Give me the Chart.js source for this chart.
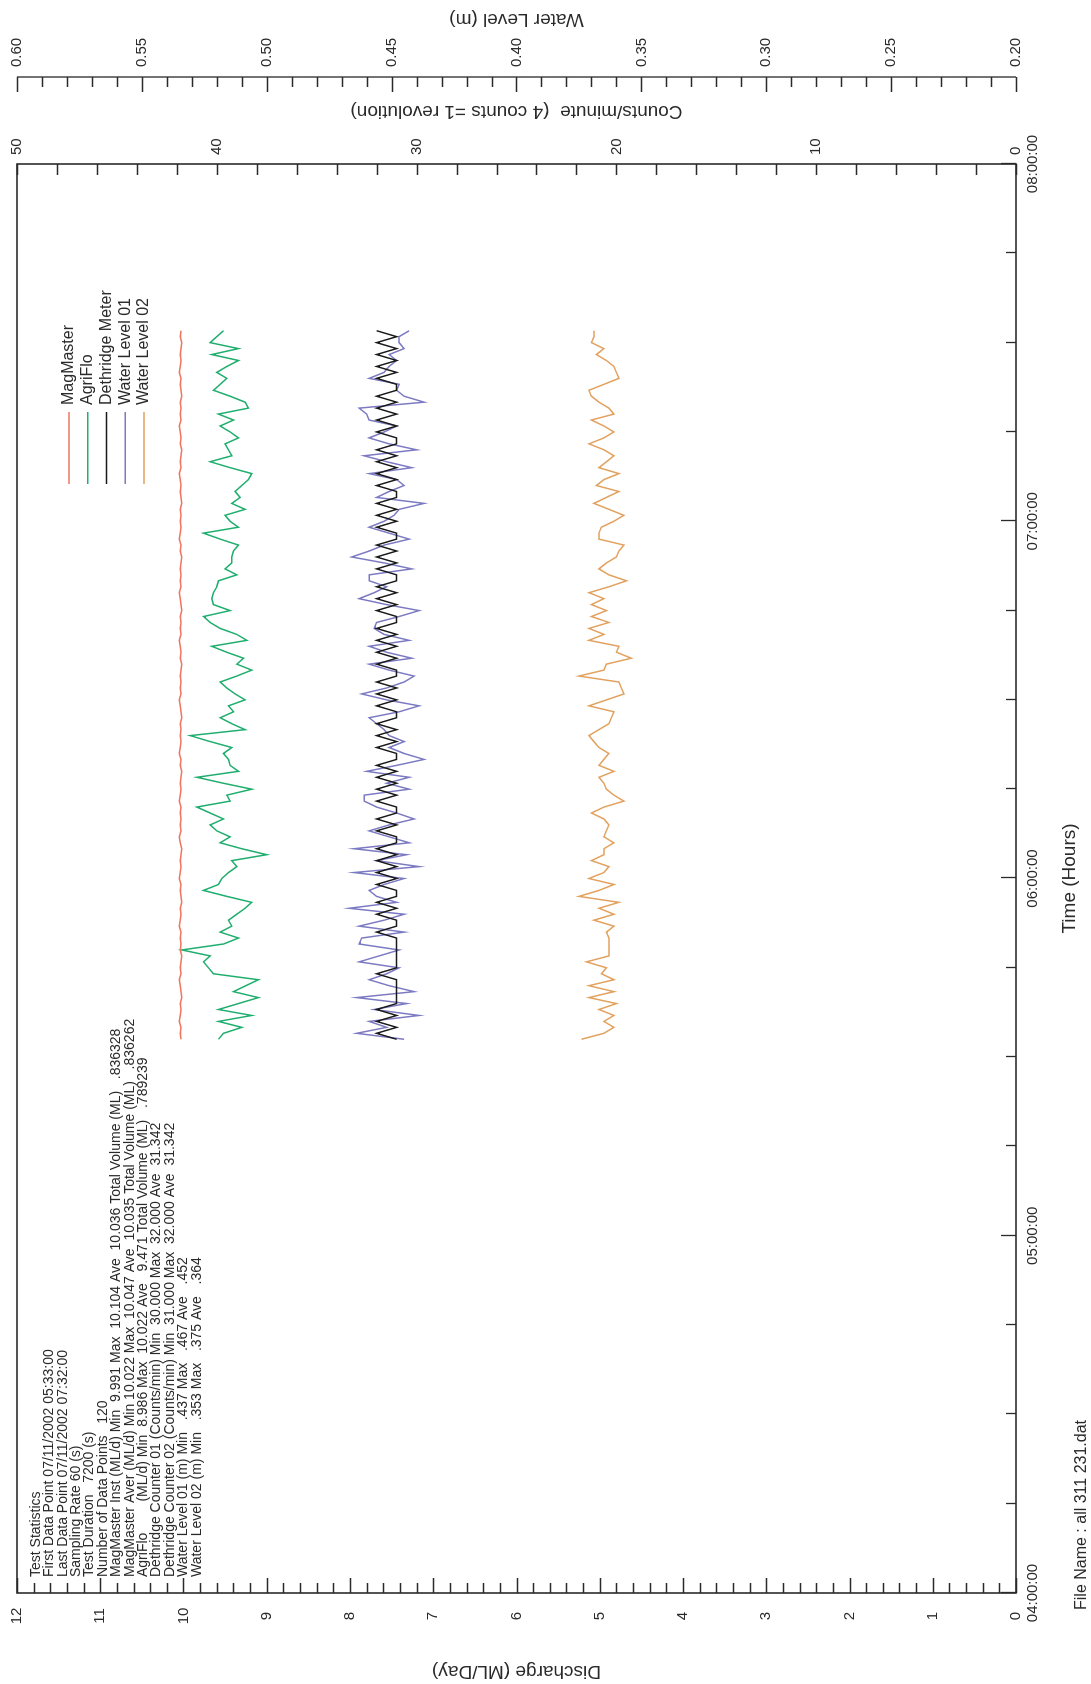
<!DOCTYPE html>
<html>
<head>
<meta charset="utf-8">
<script src="https://cdn.jsdelivr.net/npm/chart.js@4/dist/chart.umd.min.js"></script>
<style>
  html, body { margin: 0; padding: 0; background: #ffffff; overflow: hidden; }
  body { width: 1091px; height: 1684px; position: relative; }
  #wrap { position: absolute; left: 0; top: 0; width: 1684px; height: 1091px;
          transform-origin: 0 0; transform: translate(0px, 1684px) rotate(-90deg); }
  canvas { display: block; }
</style>
</head>
<body>
<div id="wrap"><canvas id="c" width="1684" height="1091"></canvas></div>
<script>
// ---------------- data ----------------
const seriesNames = ['MagMaster', 'AgriFlo', 'Dethridge Meter', 'Water Level 01', 'Water Level 02'];
const firstSampleMinute = 333;   // 05:33:00
const sampleCount = 120;         // one sample per minute (60 s)

const magMaster = [
  10.03,10.04,10.03,10.05,10.04,10.03,10.04,10.02,10.03,10.04,10.05,10.03,10.04,10.03,10.02,10.04,10.03,
  10.04,10.03,10.05,10.04,10.03,10.04,10.02,10.03,10.04,10.03,10.05,10.04,10.03,10.04,10.03,10.02,10.04,10.05,10.03,10.04,10.03,10.04,10.03,10.05,10.04,10.03,
  10.04,10.03,10.02,10.04,10.03,10.05,10.04,10.03,10.04,10.03,10.04,10.02,10.03,10.04,10.05,10.03,10.04,10.03,10.04,10.03,10.02,10.04,10.03,10.04,10.05,10.03,
  10.04,10.03,10.04,10.02,10.03,10.04,10.05,10.03,10.04,10.03,10.04,10.03,10.02,10.04,10.03,10.05,10.04,10.03,10.04,10.03,10.04,10.02,10.03,10.04,10.03,
  10.04,10.05,10.03,10.04,10.03,10.02,10.04,10.03,10.04,10.05,10.03,10.04,10.03,10.04,10.02,10.03,10.04,10.03,10.05,10.04,10.03,10.04,10.03,10.02,10.04,10.03
];
const agriFlo = [
  9.58,9.52,9.30,9.58,9.18,9.58,9.34,9.10,9.40,9.25,9.10,9.64,9.70,9.76,9.68,10.02,9.52,
  9.34,9.56,9.42,9.46,9.36,9.26,9.18,9.48,9.76,9.58,9.54,9.46,9.36,9.42,9.00,9.30,9.56,9.44,9.60,9.68,9.52,9.68,9.84,9.44,9.48,9.18,
  9.52,9.84,9.34,9.44,9.46,9.52,9.42,9.68,9.92,9.26,9.42,9.56,9.40,9.46,9.26,9.38,9.48,9.56,9.36,9.18,9.36,9.28,9.48,9.66,9.24,9.36,
  9.56,9.68,9.76,9.44,9.64,9.66,9.64,9.60,9.58,9.36,9.50,9.42,9.42,9.40,9.34,9.56,9.76,9.34,9.44,9.50,9.26,9.42,9.32,9.38,9.30,
  9.22,9.18,9.44,9.68,9.42,9.46,9.50,9.34,9.44,9.56,9.40,9.58,9.22,9.26,9.44,9.64,9.56,9.48,9.60,9.48,9.34,9.66,9.34,9.68,9.60,9.52
];
const dethridge = [
  31,32,31,32,31,32,31,31,31,31,31,32,31,31,31,31,31,
  31,32,31,31,32,31,32,31,31,32,31,32,31,32,31,32,31,31,32,31,32,31,31,32,31,32,
  31,32,31,32,31,31,32,31,32,31,32,31,31,32,31,32,31,32,31,31,32,31,32,31,32,31,
  32,31,31,32,31,32,31,32,31,31,32,31,32,31,32,31,31,32,31,32,31,32,31,31,32,
  31,32,31,32,31,32,31,31,32,31,32,31,32,31,32,31,31,32,31,32,31,32,31,32,31,32
];
const waterLevel01 = [
  .445,.464,.452,.459,.439,.457,.444,.464,.441,.451,.459,.452,.447,.463,.455,.447,.463,
  .462,.445,.463,.453,.445,.467,.448,.456,.459,.453,.445,.465,.439,.456,.444,.465,.443,.451,.459,.451,.441,.448,.456,.461,.461,.443,
  .452,.443,.460,.448,.437,.445,.451,.445,.451,.453,.456,.459,.447,.439,.452,.462,.452,.445,.441,.451,.459,.442,.452,.459,.443,.453,
  .457,.456,.447,.439,.452,.463,.457,.452,.459,.459,.442,.453,.466,.459,.453,.443,.451,.459,.453,.449,.447,.437,.456,.451,.445,
  .448,.459,.442,.452,.461,.440,.451,.459,.453,.448,.459,.460,.463,.437,.445,.448,.447,.459,.453,.451,.448,.451,.445,.447,.447,.443
];
const waterLevel02 = [
  .374,.365,.361,.365,.361,.367,.360,.371,.361,.371,.361,.366,.364,.372,.363,.363,.363,
  .363,.364,.361,.369,.361,.367,.359,.375,.367,.361,.371,.365,.363,.370,.365,.365,.361,.365,.364,.363,.365,.370,.365,.357,.361,.364,
  .365,.367,.361,.367,.365,.363,.367,.369,.371,.367,.363,.362,.361,.371,.364,.357,.358,.359,.375,.365,.364,.354,.360,.359,.371,.365,
  .371,.363,.370,.364,.370,.365,.371,.363,.356,.363,.367,.364,.360,.359,.357,.367,.367,.366,.361,.357,.363,.369,.364,.359,.368,
  .365,.359,.367,.364,.361,.365,.371,.365,.361,.365,.370,.361,.363,.367,.370,.371,.365,.359,.360,.361,.364,.368,.365,.370,.369,.369
];

const timeLabelMinutes = [240, 300, 360, 420, 480];
const timeLabels = ['04:00:00', '05:00:00', '06:00:00', '07:00:00', '08:00:00'];
const dischargeLabels = ['0','1','2','3','4','5','6','7','8','9','10','11','12'];
const countsLabels = ['0','10','20','30','40','50'];
const levelLabels = ['0.20','0.25','0.30','0.35','0.40','0.45','0.50','0.55','0.60'];

const statsLines = [
  'Test Statistics',
  'First Data Point 07/11/2002 05:33:00',
  'Last Data Point 07/11/2002 07:32:00',
  'Sampling Rate 60 (s)',
  'Test Duration   7200 (s)',
  'Number of Data Points   120',
  'MagMaster Inst (ML/d) Min  9.991 Max  10.104 Ave  10.036 Total Volume (ML)   .836328',
  'MagMaster Aver (ML/d) Min 10.022 Max  10.047 Ave  10.035 Total Volume (ML)   .836262',
  'AgriFlo        (ML/d) Min  8.986 Max  10.022 Ave   9.471 Total Volume (ML)   .789239',
  'Dethridge Counter 01 (Counts/min) Min  30.000 Max  32.000 Ave  31.342',
  'Dethridge Counter 02 (Counts/min) Min  31.000 Max  32.000 Ave  31.342',
  'Water Level 01 (m) Min   .437 Max   .467 Ave   .452',
  'Water Level 02 (m) Min   .353 Max   .375 Ave   .364'
];
const fileNameText = 'File Name : all 311 231.dat';

// --------------- build -----------------
const FONT = '"Liberation Sans", Arial, Helvetica, sans-serif';
const INK = '#2a2a2a';
function pts(arr) { return arr.map((v, i) => ({ x: firstSampleMinute + i, y: v })); }

const axesPlugin = {
  id: 'axesPlugin',
  afterDatasetsDraw(chart) {
    const ctx = chart.ctx, a = chart.chartArea;
    const xs = chart.scales.x, yd = chart.scales.yD, yc = chart.scales.yC, yw = chart.scales.yW;
    ctx.save();
    ctx.strokeStyle = INK; ctx.fillStyle = INK; ctx.lineWidth = 1.6;
    ctx.strokeRect(a.left, a.top, a.right - a.left, a.bottom - a.top);
    ctx.lineWidth = 1.3;
    ctx.beginPath();
    // time ticks (every 15 min), inward
    for (let m = xs.min; m <= xs.max + 0.01; m += 15) {
      const px = Math.round(xs.getPixelForValue(m)) + 0.5;
      const len = (m % 60 === 0) ? 15 : 10;
      ctx.moveTo(px, a.bottom); ctx.lineTo(px, a.bottom - len);
    }
    // discharge ticks (every 0.2), inward
    for (let k = 0; k <= 60; k++) {
      const v = k * 0.2;
      const py = Math.round(yd.getPixelForValue(v)) + 0.5;
      const len = (k % 5 === 0) ? 15 : 10;
      ctx.moveTo(a.left, py); ctx.lineTo(a.left + len, py);
    }
    // counts ticks (every 2), inward
    for (let c = 0; c <= 50; c += 2) {
      const py = Math.round(yc.getPixelForValue(c)) + 0.5;
      ctx.moveTo(a.right, py); ctx.lineTo(a.right - 11, py);
    }
    // water level axis line + ticks
    const wx = 1607;
    ctx.moveTo(wx, yw.getPixelForValue(0.2)); ctx.lineTo(wx, yw.getPixelForValue(0.6));
    for (let k = 0; k <= 40; k++) {
      const py = Math.round(yw.getPixelForValue(0.2 + k * 0.01)) + 0.5;
      const len = (k % 5 === 0) ? 15 : 10;
      ctx.moveTo(wx, py); ctx.lineTo(wx - len, py);
    }
    ctx.stroke();

    // tick labels
    ctx.font = '15px ' + FONT;
    ctx.textBaseline = 'middle';
    ctx.textAlign = 'center';
    timeLabels.forEach((t, i) => ctx.fillText(t, xs.getPixelForValue(timeLabelMinutes[i]), a.bottom + 17));
    dischargeLabels.forEach(t => ctx.fillText(t, 68, yd.getPixelForValue(parseFloat(t))));
    ctx.textAlign = 'left';
    countsLabels.forEach(t => ctx.fillText(t, a.right + 9, yc.getPixelForValue(parseFloat(t))));
    levelLabels.forEach(t => ctx.fillText(t, wx + 10, yw.getPixelForValue(parseFloat(t))));

    // axis titles
    const midY = (a.top + a.bottom) / 2;
    ctx.font = '19px ' + FONT;
    ctx.textAlign = 'center';
    ctx.fillText('Time (Hours)', (a.left + a.right) / 2, 1070);
    const vtext = (txt, x) => { ctx.save(); ctx.translate(x, midY); ctx.rotate(-Math.PI / 2); ctx.fillText(txt, 0, 0); ctx.restore(); };
    vtext('Discharge (ML/Day)', 13);
    vtext('Counts/minute  (4 counts =1 revolution)', 1573);
    vtext('Water Level (m)', 1665);

    // file name
    ctx.font = '16px ' + FONT;
    ctx.textAlign = 'left';
    ctx.fillText(fileNameText, 74, 1082);

    // statistics block
    ctx.font = '14px ' + FONT;
    statsLines.forEach((s, i) => ctx.fillText(s, 107, 36 + i * 13.4));

    // legend
    ctx.font = '16px ' + FONT;
    chart.data.datasets.forEach((ds, i) => {
      const y = 69 + i * 18.75;
      ctx.strokeStyle = ds.borderColor; ctx.lineWidth = 1.5;
      ctx.beginPath(); ctx.moveTo(1200, y); ctx.lineTo(1272, y); ctx.stroke();
      ctx.fillStyle = INK;
      ctx.fillText(ds.label, 1279, y);
    });
    ctx.restore();
  }
};

const colors = ['#ef7560', '#1fae6e', '#1a1a1a', '#7c7ac2', '#e2a15e'];
const axisIds = ['yD', 'yD', 'yC', 'yW', 'yW'];
const values = [magMaster, agriFlo, dethridge, waterLevel01, waterLevel02];

new Chart(document.getElementById('c'), {
  type: 'line',
  data: {
    datasets: seriesNames.map((n, i) => ({
      label: n, data: pts(values[i]), yAxisID: axisIds[i],
      borderColor: colors[i], borderWidth: 1.5, pointRadius: 0, tension: 0, fill: false
    }))
  },
  options: {
    responsive: false, animation: false, devicePixelRatio: 1,
    layout: { padding: { left: 91, right: 164, top: 17, bottom: 75 } },
    plugins: { legend: { display: false }, tooltip: { enabled: false } },
    scales: {
      x: { type: 'linear', min: 240, max: 480, display: false },
      yD: { type: 'linear', min: 0, max: 12, display: false },
      yC: { type: 'linear', min: 0, max: 50, display: false },
      yW: { type: 'linear', min: 0.2, max: 0.6, display: false }
    }
  },
  plugins: [axesPlugin]
});
</script>
</body>
</html>
